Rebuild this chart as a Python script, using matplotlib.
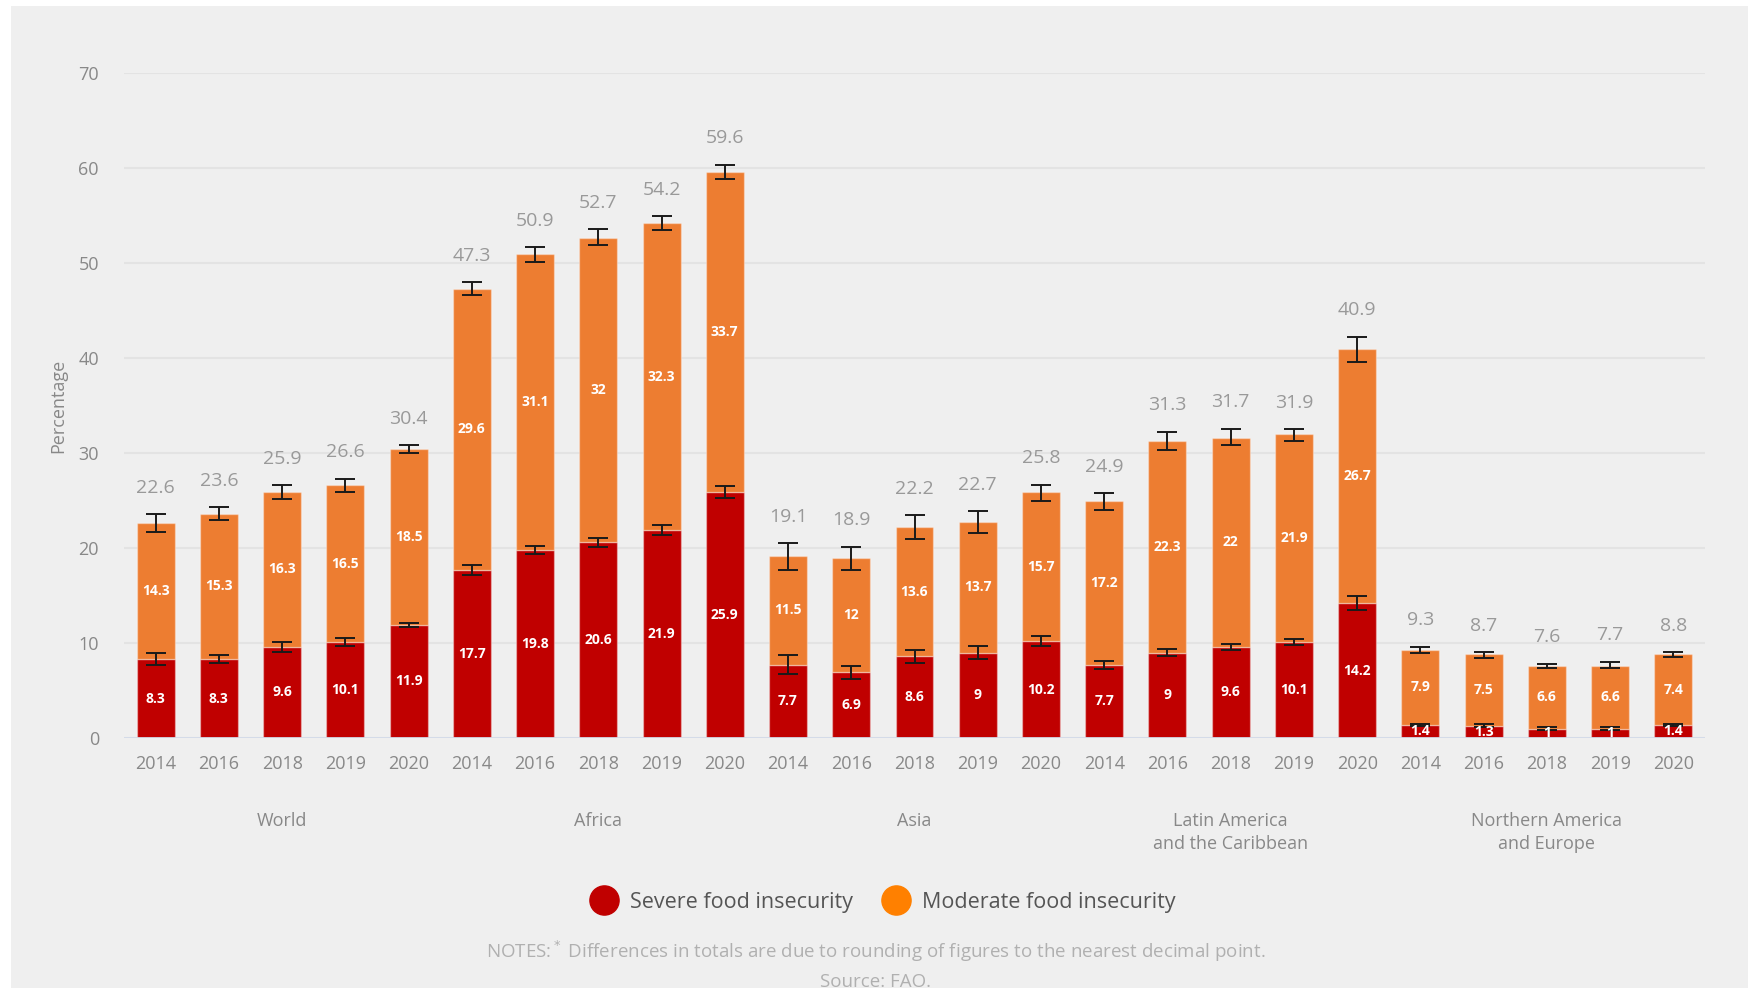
import numpy as np
import matplotlib.pyplot as plt
import matplotlib.transforms as mtransforms
from matplotlib.patches import Rectangle
from matplotlib.lines import Line2D

plt.rcParams['font.family'] = ['Open Sans', 'DejaVu Sans']

# data
regions = ['World', 'Africa', 'Asia', 'Latin America\nand the Caribbean', 'Northern America\nand Europe']
years = ['2014', '2016', '2018', '2019', '2020']

severe = [8.3, 8.3, 9.6, 10.1, 11.9,
          17.7, 19.8, 20.6, 21.9, 25.9,
          7.7, 6.9, 8.6, 9, 10.2,
          7.7, 9, 9.6, 10.1, 14.2,
          1.4, 1.3, 1, 1, 1.4]
moderate = [14.3, 15.3, 16.3, 16.5, 18.5,
            29.6, 31.1, 32, 32.3, 33.7,
            11.5, 12, 13.6, 13.7, 15.7,
            17.2, 22.3, 22, 21.9, 26.7,
            7.9, 7.5, 6.6, 6.6, 7.4]
totals = [22.6, 23.6, 25.9, 26.6, 30.4,
          47.3, 50.9, 52.7, 54.2, 59.6,
          19.1, 18.9, 22.2, 22.7, 25.8,
          24.9, 31.3, 31.7, 31.9, 40.9,
          9.3, 8.7, 7.6, 7.7, 8.8]
# error bars (half widths)
total_err = [0.95, 0.7, 0.7, 0.7, 0.45,
             0.7, 0.75, 0.85, 0.7, 0.75,
             1.4, 1.25, 1.25, 1.15, 0.85,
             0.85, 0.95, 0.85, 0.6, 1.33,
             0.3, 0.32, 0.23, 0.32, 0.23]
severe_err = [0.65, 0.4, 0.55, 0.4, 0.25,
              0.5, 0.4, 0.5, 0.5, 0.65,
              1.0, 0.7, 0.7, 0.7, 0.55,
              0.4, 0.35, 0.33, 0.32, 0.7,
              0.1, 0.15, 0.15, 0.15, 0.1]

c_severe = '#c00000'
c_moderate = '#ed7d31'
grey_txt = '#888888'

fig = plt.figure(figsize=(17.48, 9.88), dpi=100)
fig.patches.append(Rectangle((11/1748, 0), 1, 982/988, transform=fig.transFigure,
                             facecolor='#efefef', edgecolor='none', zorder=-10))
ax = fig.add_axes([124/1748, 250/988, (1705-124)/1748, (738-73)/988])
ax.set_facecolor('none')

x = np.arange(len(severe))
xticklabels = years * len(regions)
sev = np.array(severe)
mod = np.array(moderate)

ax.bar(x, sev, 0.6, color=c_severe, edgecolor=(1, 1, 1, 0.35), linewidth=1, zorder=3)
ax.bar(x, mod, 0.6, bottom=sev, color=c_moderate, edgecolor=(1, 1, 1, 0.35), linewidth=1, zorder=3)

ax.errorbar(x, totals, yerr=total_err, fmt='none', ecolor='#1a1a1a', elinewidth=1.4,
            capsize=7, capthick=1.4, zorder=5)
ax.errorbar(x, severe, yerr=severe_err, fmt='none', ecolor='#1a1a1a', elinewidth=1.4,
            capsize=7, capthick=1.4, zorder=5)

for i in range(len(x)):
    ax.text(x[i], sev[i] / 2, '%g' % sev[i], ha='center', va='center', color='white',
            fontsize=10, fontweight='bold', zorder=6)
    ax.text(x[i], sev[i] + mod[i] / 2, '%g' % mod[i], ha='center', va='center', color='white',
            fontsize=10, fontweight='bold', zorder=6)
    ax.annotate('%g' % totals[i], (x[i], totals[i] + total_err[i]), xytext=(0, 19),
                textcoords='offset points', ha='center', va='center', color='#999999',
                fontsize=14)

ax.set_xlim(-0.5, len(x) - 0.5)
ax.set_ylim(0, 70)
ax.set_yticks(range(0, 71, 10))
ax.set_xticks(x)
ax.set_xticklabels(xticklabels)
ax.tick_params(axis='x', length=0, pad=12, labelsize=13, labelcolor=grey_txt)
ax.tick_params(axis='y', length=0, pad=18, labelsize=13, labelcolor=grey_txt)
ax.grid(axis='y', color='#e3e3e3', linewidth=1.5, zorder=0)
for s in ax.spines.values():
    s.set_visible(False)
ax.axhline(0, color='#d3dbe9', linewidth=2, zorder=4)

ax.set_ylabel('Percentage', fontsize=13, color=grey_txt, labelpad=8)

trans = mtransforms.blended_transform_factory(ax.transData, ax.transAxes)
for g, name in enumerate(regions):
    ax.text(g * 5 + 2, -0.112, name, transform=trans, ha='center', va='top',
            fontsize=13, color=grey_txt, linespacing=1.3)

handles = [Line2D([], [], marker='o', linestyle='none', markersize=21, color=c_severe),
           Line2D([], [], marker='o', linestyle='none', markersize=21, color='#ff8000')]
fig.legend(handles, ['Severe food insecurity', 'Moderate food insecurity'], loc='center',
           bbox_to_anchor=(0.503, 0.087), ncol=2, frameon=False, fontsize=15.5,
           handletextpad=0.2, columnspacing=1.0, labelcolor='#555555')

fig.text(0.501, 0.0374, 'NOTES:$^*$ Differences in totals are due to rounding of figures to the nearest decimal point.',
         ha='center', va='center', fontsize=13.5, color='#b0b0b0')
fig.text(0.501, 0.006, 'Source: FAO.', ha='center', va='center', fontsize=13.5, color='#b0b0b0')

fig.savefig('out.png', dpi=100)
